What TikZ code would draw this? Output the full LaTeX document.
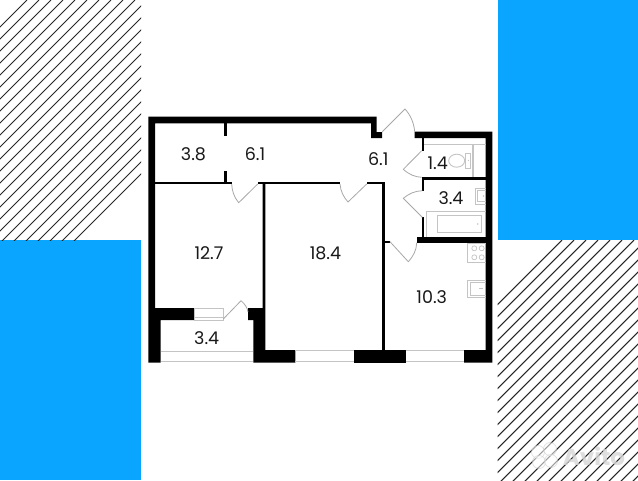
\documentclass[tikz,border=0pt]{standalone}
\usepackage{fontspec}
\setmainfont{Poppins}
\definecolor{skyb}{HTML}{0AA5FF}
\definecolor{fix}{HTML}{C4C4C4}
\definecolor{doorc}{HTML}{A8A8A8}
\tikzset{
  wall/.style={fill=black,draw=none},
  fixture/.style={draw=fix,line width=0.9pt,fill=none},
  doorline/.style={draw=doorc,line width=0.8pt,line join=round},
  hatchline/.style={draw=black!85,line width=1.05pt},
  area/.style={font=\fontsize{17.5}{20}\selectfont,text=black!90,inner sep=0pt},
}
\begin{document}
\begin{tikzpicture}[x=1pt,y=-1pt]
\useasboundingbox (0,0) rectangle (638,480);
\fill[white] (0,0) rectangle (638,480);
% blue panels
\fill[skyb] (497.5,0) rectangle (638,240);
\fill[skyb] (0,240) rectangle (141,480);
% hatching
\begin{scope}
\clip (0,0) rectangle (141,240);
\foreach \k in {0,...,24} {\draw[hatchline] ({315-12*\k},0) -- ({315-12*\k-260},260);}
\end{scope}
\begin{scope}
\clip (497.5,240) rectangle (638,480);
\foreach \k in {0,...,28} {\draw[hatchline] ({562+12*\k},240) -- ({562+12*\k-260},500);}
\end{scope}
% faint watermark
\begin{scope}[opacity=0.55]
\foreach \p/\q in {538/452,550/449,539/462,551/461} {\fill[white] (\p,\q) circle (6.5); \draw[black!22,line width=0.7pt] (\p,\q) circle (6.5);}
\end{scope}
\node[font=\bfseries\fontsize{23}{25}\selectfont,text=black!16,opacity=0.8,inner sep=0pt] (wm) at (594,456) {Avito};
% outer walls
\fill[wall] (148.3,116.7) -- (376.7,116.7) -- (376.7,132) -- (382,132) -- (382,138) -- (371,138) -- (371,123.3) -- (155,123.3) -- (155,308) -- (194,308) -- (194,320) -- (160.7,320) -- (160.7,362.7) -- (148.3,362.7) -- cycle;
\fill[wall] (414.7,131.7) -- (492.3,131.7) -- (492.3,362.7) -- (464,362.7) -- (464,350) -- (485.7,350) -- (485.7,138) -- (414.7,138) -- cycle;
\fill[wall] (354,350) rectangle (405.7,362.7);
% balcony pier + wall to bottom
\fill[wall] (248,308) -- (262.7,308) -- (262.7,184) -- (265.3,184) -- (265.3,350) -- (295.3,350) -- (295.3,362.7) -- (253.3,362.7) -- (253.3,320) -- (248,320) -- cycle;
% inner walls
\fill[wall] (155,181.7) rectangle (231.7,184.3);
\fill[wall] (257.7,181.7) rectangle (340,184.3);
\fill[wall] (366.7,181.7) rectangle (384.7,184.3);
\fill[wall] (382,181.7) rectangle (384.7,350);
\fill[wall] (224,123) rectangle (226.7,135.7);
\fill[wall] (224,170.7) rectangle (226.7,184);
\fill[wall] (421.7,138) rectangle (424.2,150.7);
\fill[wall] (421.7,177.3) rectangle (424.2,190.7);
\fill[wall] (421.7,217) rectangle (424.2,238);
\fill[wall] (421.7,177.3) rectangle (486,180);
\fill[wall] (416.7,236.7) rectangle (486,242.7);
\fill[wall] (384.7,241) rectangle (390,243.3);
% windows
\draw[fixture] (194,308.5) rectangle (223.3,320);
\draw[fixture] (194,317) -- (223.3,317);
\draw[fixture] (160.7,351.7) -- (253.3,351.7);
\draw[fixture] (160.7,361.5) -- (253.3,361.5);
\draw[fixture] (295.3,350.7) -- (354,350.7);
\draw[fixture] (295.3,361.5) -- (354,361.5);
\draw[fixture] (405.7,350.7) -- (464,350.7);
\draw[fixture] (405.7,361.5) -- (464,361.5);
% doors
\draw[doorline] (257.7,184) -- (238.7,202.7) .. controls (234,197) and (232,191) .. (231.7,184);
\draw[doorline] (366.7,184) -- (348,202) .. controls (343.5,197) and (340.5,191) .. (340,184);
\draw[doorline] (382.3,131.7) -- (405,109) .. controls (410.5,115) and (414,123) .. (414.7,131.7);
\draw[doorline] (421.7,150.7) -- (403.3,169.3) .. controls (409,174.5) and (415,177) .. (421.7,177.3);
\draw[doorline] (422.3,217.3) -- (403.3,198.3) .. controls (409,193.5) and (415,191) .. (422.3,190.7);
\draw[doorline] (390,241.7) -- (408.3,261.7) .. controls (413.5,256) and (416.5,250) .. (416.7,242.7);
\draw[doorline] (223.3,319) -- (241,300.7) .. controls (245,304) and (247.5,308) .. (248,312);
% WC
\draw[fixture] (424.2,144.5) -- (485.7,144.5);
\draw[fixture] (472,144.5) -- (472,177.3);
\draw[fixture] (473.6,144.5) -- (473.6,177.3);
\draw[fixture] (456.7,160.7) ellipse [x radius=8,y radius=6.5];
\draw[fixture] (465,153) rectangle (470.7,168);
\fill[fix] (468.5,160.5) circle (0.7);
% bath room
\draw[fixture] (485.7,188) -- (475,188) -- (475,204) -- (485.7,204);
\draw[fixture] (485.7,190.5) -- (477.5,190.5) -- (477.5,201.5) -- (485.7,201.5);
\fill[fix] (483.5,196) circle (0.8);
\draw[fixture] (426,236.5) -- (426,211.7) -- (485.7,211.7);
\draw[fixture] (437.7,215.7) rectangle (481.7,232.7);
\fill[fix] (477.7,224) circle (0.9);
% kitchen
\draw[fixture] (485.7,243) -- (467.7,243) -- (467.7,262) -- (485.7,262);
\foreach \p/\q in {474.3/248.3,481.7/248.3,474.3/257.3,481.7/257.3} {\draw[fixture,line width=0.7pt] (\p,\q) circle (2.5);}
\draw[fixture] (485.7,280) -- (467.7,280) -- (467.7,297.3) -- (485.7,297.3);
\draw[fixture] (485.7,282.5) -- (470,282.5) -- (470,295) -- (485.7,295);
\draw[fixture,line width=0.6pt] (479,288) -- (483,288);
% labels
\node[area] (a1) at (193.5,154.5) {3.8};
\node[area] (a2) at (255,154.5) {6.1};
\node[area] (a3) at (378.3,159) {6.1};
\node[area] (a4) at (437.7,163.5) {1.4};
\node[area] (a5) at (451,198) {3.4};
\node[area] (a6) at (209,253) {12.7};
\node[area] (a7) at (325.5,253) {18.4};
\node[area] (a8) at (431.7,297.3) {10.3};
\node[area] (a9) at (206.7,338.3) {3.4};
\end{tikzpicture}
\end{document}
